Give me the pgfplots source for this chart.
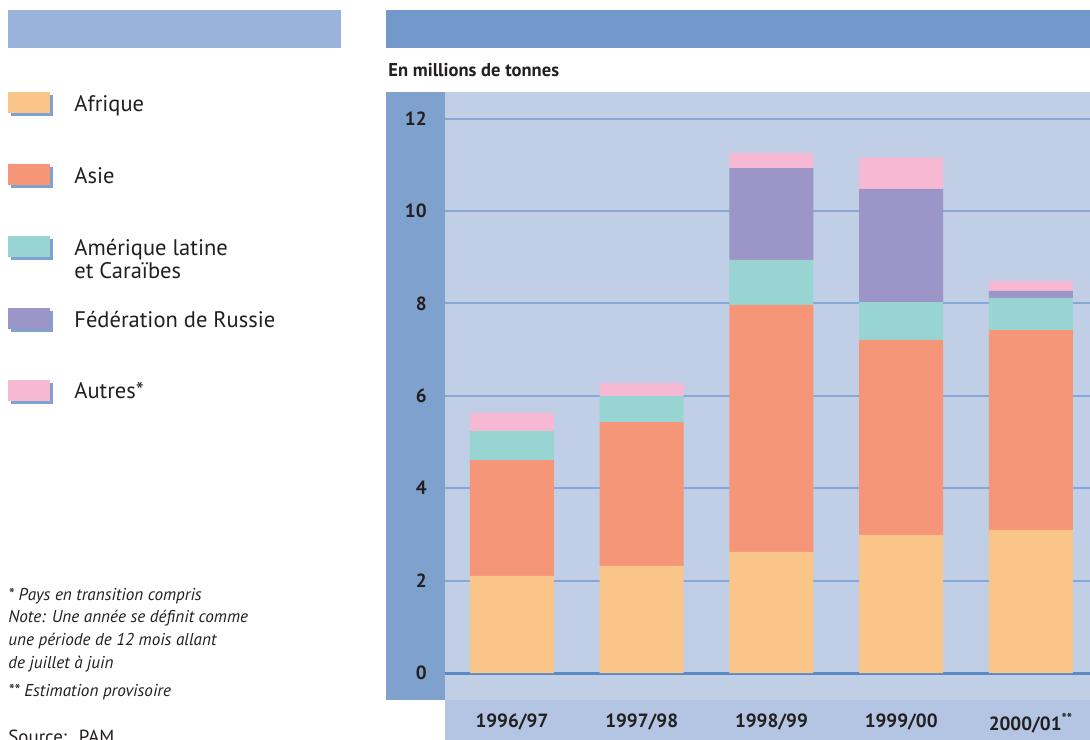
\documentclass[border=0pt]{standalone}
\usepackage{fontspec}
\setmainfont{PT Sans}
\usepackage{pgfplots}
\pgfplotsset{compat=1.18}
\definecolor{af}{HTML}{F9C589}
\definecolor{as}{HTML}{F59679}
\definecolor{la}{HTML}{98D5D2}
\definecolor{ru}{HTML}{9B96C7}
\definecolor{au}{HTML}{F7B8D4}
\definecolor{plotbg}{HTML}{C0CFE6}
\definecolor{strip}{HTML}{7FA1CD}
\definecolor{band}{HTML}{B3C5E2}
\definecolor{hdrL}{HTML}{9AB3DA}
\definecolor{hdrR}{HTML}{7399CB}
\definecolor{gridc}{HTML}{86A7D7}
\definecolor{zero}{HTML}{5A8AC6}
\definecolor{txt}{HTML}{231F20}
\begin{document}
\begin{tikzpicture}[x=0.5bp,y=0.5bp]
\useasboundingbox (0,0) rectangle (1090,740);
\fill[hdrL] (8,730) rectangle (341,692);
\fill[hdrR] (386,730) rectangle (1090,692);
\node[anchor=base west, inner sep=0pt, font=\bfseries\fontsize{9.3}{11}\selectfont, text=txt] at (388,663) {En millions de tonnes};
\fill[strip] (386,648) rectangle (445,40);
\fill[band] (445,0) rectangle (1090,40);
\begin{axis}[
  scale only axis, width=322.5bp, height=304bp,
  at={(222.5bp,20bp)}, anchor=south west,
  xmin=-0.516, xmax=4.455, ymin=-0.584, ymax=12.576,
  ybar stacked, bar width=42bp,
  axis background/.style={fill=plotbg},
  axis line style={draw=none},
  major tick length=0pt,
  xtick={0,1,2,3,4},
  xticklabels={1996/97,1997/98,1998/99,1999/00,2000/01\textsuperscript{\fontsize{7}{7}\selectfont**}},
  ytick={2,4,6,8,10,12},
  extra y ticks={0},
  extra y tick style={grid style={draw=zero, line width=1.5bp}},
  ymajorgrids, grid style={draw=gridc, line width=1bp},
  tick label style={font=\bfseries\fontsize{9.6}{11}\selectfont, text=txt},
  /pgf/number format/assume math mode=true,
  yticklabel style={anchor=east, inner sep=0pt, xshift=-9bp},
  xticklabel style={anchor=north, inner sep=0pt, yshift=-6.5bp},
]
\addplot[fill=af, draw=none] coordinates {(0,2.10) (1,2.32) (2,2.62) (3,2.99) (4,3.10)};
\addplot[fill=as, draw=none] coordinates {(0,2.51) (1,3.11) (2,5.35) (3,4.22) (4,4.32)};
\addplot[fill=la, draw=none] coordinates {(0,0.63) (1,0.57) (2,0.97) (3,0.82) (4,0.70)};
\addplot[fill=ru, draw=none] coordinates {(0,0) (1,0) (2,1.99) (3,2.45) (4,0.15)};
\addplot[fill=au, draw=none] coordinates {(0,0.39) (1,0.28) (2,0.33) (3,0.68) (4,0.21)};
\end{axis}
% legend
\foreach \c/\t in {af/113, as/185, la/257, ru/329, au/401}{
  \fill[strip] (11,740-\t-3) rectangle (53,740-\t+21-3);
  \fill[\c] (8,740-\t) rectangle (50,740-\t+21);
}
\begin{scope}[every node/.style={anchor=base west, inner sep=0pt, font=\fontsize{11.3}{13}\selectfont, text=txt}]
\node at (74,740-112) {Afrique};
\node at (74,740-184) {Asie};
\node at (74,740-256) {Amérique latine};
\node at (74,740-279) {et Caraïbes};
\node at (74,740-328) {Fédération de Russie};
\node at (74,740-399) {Autres*};
\end{scope}
\begin{scope}[every node/.style={anchor=base west, inner sep=0pt, font=\itshape\fontsize{8.6}{10}\selectfont, text=txt}]
\node at (8,740-601) {* Pays en transition compris};
\node at (8,740-623) {Note: Une année se définit comme};
\node at (8,740-646) {une période de 12 mois allant};
\node at (8,740-669) {de juillet à juin};
\node at (8,740-697) {** Estimation provisoire};
\end{scope}
\node[anchor=base west, inner sep=0pt, font=\fontsize{9.5}{11}\selectfont, text=txt] at (8,740-744) {Source:~ PAM};
\end{tikzpicture}
\end{document}
